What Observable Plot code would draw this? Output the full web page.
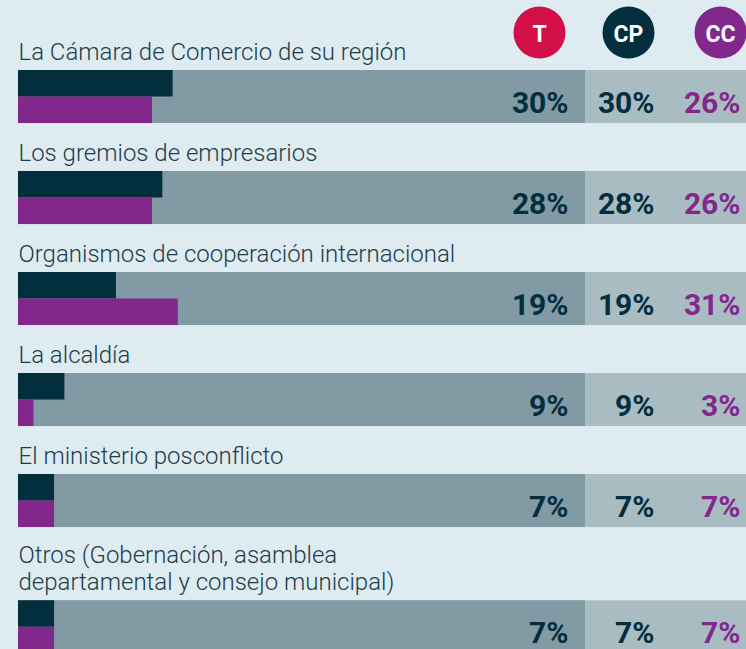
<!DOCTYPE html>
<html><head><meta charset="utf-8">
<script src="https://cdn.jsdelivr.net/npm/d3@7"></script>
<script src="https://cdn.jsdelivr.net/npm/@observablehq/plot@0.6"></script>
<style>html,body{margin:0;padding:0;background:#deebf0;overflow:hidden}</style>
</head><body><div id="chart"></div>
<script>
const categories = [
  "La Cámara de Comercio de su región",
  "Los gremios de empresarios",
  "Organismos de cooperación internacional",
  "La alcaldía",
  "El ministerio posconflicto",
  "Otros (Gobernación, asamblea\ndepartamental y consejo municipal)"
];
const labelLines = [1, 1, 1, 1, 1, 2];
const seriesT  = [30, 28, 19, 9, 7, 7];
const seriesCP = [30, 28, 19, 9, 7, 7];
const seriesCC = [26, 26, 31, 3, 7, 7];
const columns = ["T", "CP", "CC"];

const circleColors = {T: "#d20f46", CP: "#032e3d", CC: "#82288c"};
const valueColors = {T: "#032e3d", CP: "#032e3d", CC: "#82288c"};
const valueDx = {T: -178, CP: -92, CC: -6};
const headerDx = {T: -207, CP: -118, CC: -26};
const xMax = 110;
const barH = 0.525, half = barH / 2;

let extra = 0;
const rows = categories.map((c, i) => {
  extra += (labelLines[i] - 1) * 0.25;
  return {label: c, pos: i + extra, T: seriesT[i], CP: seriesCP[i], CC: seriesCC[i]};
});

const font = "Roboto, sans-serif";

const marks = [
  Plot.rect(rows, {y1: "pos", y2: d => d.pos + barH, fill: "#a9bcc2"}),
  Plot.rect(rows, {x1: 0, x2: xMax, y1: "pos", y2: d => d.pos + barH, fill: "#819aa3"}),
  Plot.rect(rows, {x1: 0, x2: "CP", y1: "pos", y2: d => d.pos + half, fill: "#032e3d"}),
  Plot.rect(rows, {x1: 0, x2: "CC", y1: d => d.pos + half, y2: d => d.pos + barH, fill: "#82288c"}),
  Plot.text(rows, {frameAnchor: "left", y: "pos", text: "label", textAnchor: "start", lineAnchor: "bottom",
    dy: -11, fontSize: 24, fontWeight: 300, fill: "#1d3d4a", fontFamily: font, lineHeight: 1.13})
];
for (const col of columns) {
  marks.push(Plot.text(rows, {frameAnchor: "right", y: d => d.pos + half, text: d => d[col] + "%",
    textAnchor: "end", lineAnchor: "middle", dx: valueDx[col], dy: 6, fontSize: 30, fontWeight: "bold",
    fill: valueColors[col], fontFamily: font}));
  marks.push(Plot.dot([col], {frameAnchor: "top-right", dx: headerDx[col], dy: 32, r: 26,
    fill: circleColors[col], stroke: null}));
  marks.push(Plot.text([col], {frameAnchor: "top-right", dx: headerDx[col], dy: 34, text: d => d,
    textAnchor: "middle", lineAnchor: "middle",
    fill: "white", fontSize: 23, fontWeight: "bold", fontFamily: font}));
}

const chart = Plot.plot({
  width: 746, height: 649,
  marginTop: 0, marginBottom: 0, marginLeft: 18, marginRight: 0,
  x: {domain: [0, xMax], range: [18, 585], axis: null},
  y: {domain: [0, 1], range: [70, 171], axis: null},
  style: {background: "#deebf0"},
  marks
});
document.getElementById("chart").append(chart);
</script></body></html>
